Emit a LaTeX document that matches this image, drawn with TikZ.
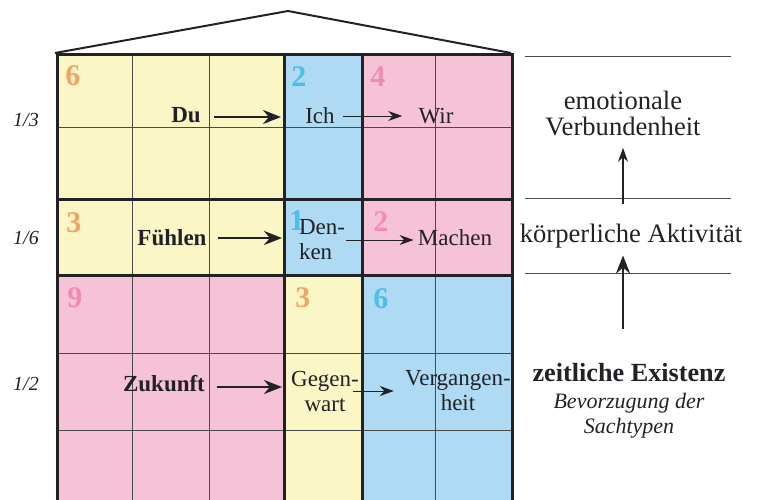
\documentclass[tikz,border=0pt]{standalone}
\usepackage{fontspec}
\setmainfont{Liberation Serif}
\usetikzlibrary{positioning,calc,arrows.meta}
\definecolor{cellyellow}{HTML}{FBF6C6}
\definecolor{cellblue}{HTML}{AEDAF3}
\definecolor{cellpink}{HTML}{F5C2D6}
\definecolor{numorange}{HTML}{F0A468}
\definecolor{numblue}{HTML}{4BBEE9}
\definecolor{numpink}{HTML}{F08CB4}
\definecolor{inkgray}{HTML}{222226}
\definecolor{linegray}{HTML}{4A4A4E}

\begin{document}
\begin{tikzpicture}[x=0.5pt,y=-0.5pt,
				every node/.style={inner sep=0pt,text=inkgray,font=\fontsize{11.5}{12.5}\selectfont},
				keyword/.style={font=\fontsize{11.5}{12.5}\selectfont\bfseries},
				share/.style={font=\fontsize{10}{12.5}\selectfont\itshape},
				scaletext/.style={font=\fontsize{13.3}{13}\selectfont},
				count/.style={anchor=north west,font=\fontsize{15}{15}\selectfont\bfseries},
				thinline/.style={line width=0.5pt,draw=linegray},
				thickline/.style={line width=1.5pt,draw=inkgray},
				bigarrow/.style={line width=1.4pt,draw=inkgray,-{Stealth[length=9pt,width=7pt]}},
				smallarrow/.style={line width=0.5pt,draw=inkgray,-{Stealth[length=7pt,width=5pt]}}]
				\useasboundingbox (0,0) rectangle (758,499);
				\clip (0,0) rectangle (758,499);

				% cells
				\fill[cellyellow] (57,54) rectangle (284,275);
				\fill[cellyellow] (284,275) rectangle (362,507);
				\fill[cellblue]   (284,54) rectangle (362,275);
				\fill[cellblue]   (362,275) rectangle (512,507);
				\fill[cellpink]   (362,54) rectangle (512,275);
				\fill[cellpink]   (57,275) rectangle (284,507);
				\foreach \y in {127,353,430} \draw[thinline] (57,\y) -- (512,\y);
				\foreach \x in {132,209,435} \draw[thinline] (\x,54) -- (\x,507);
				\draw[thickline] (57,54) rectangle (512,507);
				\foreach \y in {199,275} \draw[thickline] (57,\y) -- (512,\y);
				\foreach \x in {284,362} \draw[thickline] (\x,54) -- (\x,507);
				\draw[line width=1pt,draw=inkgray] (55,53) -- (288,11) -- (511,53);

				% counts
				\node[count,text=numorange] (cntA) at (65,65)  {6};
				\node[count,text=numblue]   (cntB) at (291,66) {2};
				\node[count,text=numpink]   (cntC) at (370,66) {4};
				\node[count,text=numorange] (cntD) at (66,212) {3};
				\node[count,text=numblue]   (cntE) at (289,210) {1};
				\node[count,text=numpink]   (cntF) at (373,211) {2};
				\node[count,text=numpink]   (cntG) at (67,287) {9};
				\node[count,text=numorange] (cntH) at (295,287) {3};
				\node[count,text=numblue]   (cntI) at (373,288) {6};

				% shares
				\node[share] (third) at (26,120) {1/3};
				\node[share] (sixth) at (26,238) {1/6};
				\node[share] (half)  at (26,384) {1/2};

				% words
				\node[keyword] (du)      at (186,115) {Du};
				\node          (ich)     at (320,116) {Ich};
				\node          (wir)     at (436,116) {Wir};
				\node[keyword] (fuehlen) at (172,238) {Fühlen};
				\node[align=left]   (denken)    at (322,240) {Den-\\ken};
				\node          (machen)  at (455,238) {Machen};
				\node[keyword] (zukunft) at (164,384) {Zukunft};
				\node[align=center] (gegenwart)  at (325,391) {Gegen-\\wart};
				\node[align=center] (vergangen)  at (458,391) {Vergangen-\\heit};

				\coordinate (duhit)      at (281,117);
				\coordinate (fuehlenhit) at (282,238);
				\coordinate (zukunfthit) at (282,387);
				\draw[bigarrow,shorten <=6.5pt] (du.east |- duhit) -- (duhit);
				\draw[bigarrow,shorten <=5.5pt] (fuehlen.east |- fuehlenhit) -- (fuehlenhit);
				\draw[bigarrow,shorten <=6pt] (zukunft.east |- zukunfthit) -- (zukunfthit);
				\draw[smallarrow,shorten <=4pt,shorten >=8pt] (ich.east) -- (wir.west);
				\draw[smallarrow,shorten <=0.5pt,shorten >=2pt] (denken.east) -- (denken.east -| machen.west);
				\draw[smallarrow,shorten <=-3pt,shorten >=5.5pt] (gegenwart.east) -- (vergangen.west);

				% scale
				\foreach \y in {56,198,273} \draw[thinline] (525,\y) -- (731,\y);
				\node[scaletext,align=center] (emo)     at (623,113) {emotionale\\Verbundenheit};
				\node[scaletext]              (koerper) at (631,236) {körperliche Aktivität};
				\node[scaletext,font=\fontsize{13.1}{13}\selectfont\bfseries] (zeit) at (629,373) {zeitliche Existenz};
				\node[share,font=\fontsize{11}{12.5}\selectfont\itshape,align=center] (sach) [below=5pt of zeit] {Bevorzugung der\\Sachtypen};
				\draw[smallarrow,line width=0.6pt,shorten <=10pt,shorten >=6pt] (koerper.north -| emo.south) -- (emo.south);
				\draw[bigarrow,shorten <=17pt,shorten >=3.5pt] (zeit.north -| emo.south) -- (koerper.south -| emo.south);
\end{tikzpicture}
\end{document}
